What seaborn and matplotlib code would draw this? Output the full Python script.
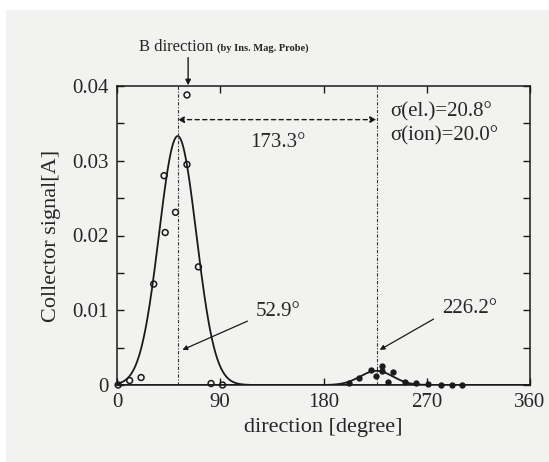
import numpy as np
import pandas as pd
import matplotlib
matplotlib.use("Agg")
import matplotlib.pyplot as plt
from matplotlib.patches import Rectangle
import seaborn as sns

sns.set_theme(style="ticks")
plt.rcParams['font.family'] = ['Liberation Serif', 'DejaVu Serif']
plt.rcParams['mathtext.fontset'] = 'stix'

# measured points (electron collector, ion collector)
el_deg = [1, 11, 21, 32, 41, 42, 51, 61, 61, 71, 82, 92]
el_sig = [0, 0.0006, 0.001, 0.0135, 0.028, 0.0204, 0.0231, 0.0295, 0.0388, 0.0158, 0.0002, 0]
ion_deg = [202, 211, 221, 226, 231, 231, 236, 241, 251, 261, 271, 282, 292, 301]
ion_sig = [0.0003, 0.001, 0.002, 0.0012, 0.0025, 0.0019, 0.00045, 0.0017, 0.00045, 0.0003, 0.0002, 0, 0, 0]

# fitted gaussian peaks
peak_deg = [52.9, 226.2]
peak_amp = [0.0333, 0.0019]
peak_width = [23.0, 20.0]

x_ticks = [0, 90, 180, 270, 360]
y_ticks = [0, 0.01, 0.02, 0.03, 0.04]
y_labels = ['0', '0.01', '0.02', '0.03', '0.04']

fig = plt.figure(figsize=(5.49, 4.62), dpi=100, facecolor='white')
# scanned paper background
fig.patches.append(Rectangle((6 / 549, 0), 1, 1 - 10 / 462, transform=fig.transFigure,
                             facecolor='#f2f2f1', edgecolor='none', zorder=-5))
ax = fig.add_axes([117 / 549, 1 - 385 / 462, 413 / 549, 299 / 462])
ax.set_facecolor('none')

grid = np.linspace(0, 360, 721)
for mu, amp, w in zip(peak_deg, peak_amp, peak_width):
    fit = pd.DataFrame({'deg': grid, 'sig': amp * np.exp(-((grid - mu) / w) ** 2)})
    sns.lineplot(data=fit, x='deg', y='sig', ax=ax, color='#1a1a1a', lw=1.3)

sns.scatterplot(x=el_deg, y=el_sig, ax=ax, marker='o', s=18, facecolor='none',
                edgecolor='#1a1a1a', linewidth=1.1, zorder=4, clip_on=False)
sns.scatterplot(x=ion_deg, y=ion_sig, ax=ax, marker='o', s=14, color='#1a1a1a',
                edgecolor='#1a1a1a', linewidth=0.8, zorder=4, clip_on=False)

# peak direction lines
for mu in peak_deg:
    ax.plot([mu, mu], [0, 0.04], color='#333333', lw=0.8, ls=(0, (3, 1.5, 1, 1.5)))

# separation arrow
ax.annotate('', xy=(peak_deg[0], 0.0355), xytext=(peak_deg[1], 0.0355),
            arrowprops=dict(arrowstyle='<|-|>', ls=(0, (3, 2.5)), color='#1a1a1a',
                            lw=1.0, mutation_scale=9, shrinkA=0, shrinkB=0))
ax.text(140, 0.0325, '173.3°', ha='center', va='center', fontsize=15)
ax.text(238, 0.0366, 'σ(el.)=20.8°', ha='left', va='center', fontsize=15)
ax.text(238, 0.0333, 'σ(ion)=20.0°', ha='left', va='center', fontsize=15)

# peak annotations
ax.annotate('52.9°', xy=(57, 0.0047), xytext=(121, 0.0098), fontsize=15,
            va='center', ha='left',
            arrowprops=dict(arrowstyle='-|>', color='#1a1a1a', lw=0.9,
                            mutation_scale=7, relpos=(0, 0.2), shrinkA=4, shrinkB=0))
ax.annotate('226.2°', xy=(229, 0.0047), xytext=(283, 0.0102), fontsize=15,
            va='center', ha='left',
            arrowprops=dict(arrowstyle='-|>', color='#1a1a1a', lw=0.9,
                            mutation_scale=7, relpos=(0, 0.2), shrinkA=4, shrinkB=0))

# B direction marker above the frame
ax.annotate('', xy=(62, 0.0401), xytext=(62, 0.0438), annotation_clip=False,
            arrowprops=dict(arrowstyle='-|>', color='#1a1a1a', lw=1.0,
                            mutation_scale=8, shrinkA=0, shrinkB=0))
fig.text(139 / 549, 1 - 47 / 462, 'B direction', fontsize=12, va='center', ha='left')
fig.text(217 / 549, 1 - 48 / 462, '(by Ins. Mag. Probe)', fontsize=7.5,
         va='center', ha='left', fontweight='bold')

ax.set_xlim(0, 360)
ax.set_ylim(0, 0.04)
ax.set_xticks(x_ticks)
ax.set_yticks(y_ticks)
ax.set_yticklabels(y_labels)
ax.set_yticks([0.005, 0.015, 0.025, 0.035], minor=True)
ax.tick_params(axis='both', which='both', direction='in', top=True, right=True,
               labelsize=15, color='#1a1a1a', width=1.0)
ax.tick_params(axis='both', which='major', length=5, pad=6)
ax.tick_params(axis='both', which='minor', length=5)
for s in ax.spines.values():
    s.set_color('#1a1a1a')
    s.set_linewidth(1.1)

ax.set_xlabel('direction [degree]', fontsize=16, labelpad=4)
ax.set_ylabel('Collector signal[A]', fontsize=16, labelpad=8)

fig.savefig('out.png', dpi=100, facecolor=fig.get_facecolor())
